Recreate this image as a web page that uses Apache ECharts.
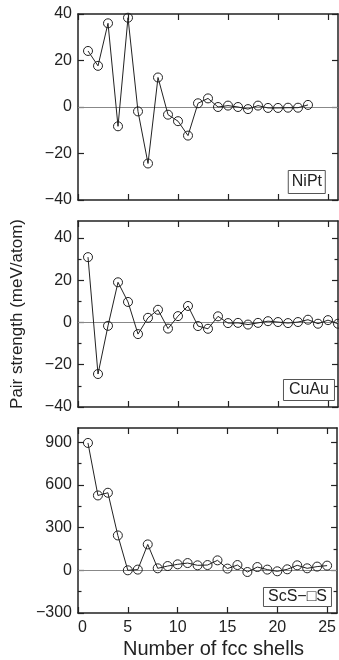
<!DOCTYPE html>
<html><head><meta charset="utf-8">
<script src="https://cdn.jsdelivr.net/npm/echarts@6/dist/echarts.min.js"></script>
<style>html,body{margin:0;padding:0;background:#fff;}#c{width:339px;height:660px;}</style>
</head><body><div id="c"></div>
<script>
// ---- data ----
const shellsNiPt = [1,2,3,4,5,6,7,8,9,10,11,12,13,14,15,16,17,18,19,20,21,22,23];
const valuesNiPt = [24.1,17.7,36.0,-8.3,38.4,-1.9,-24.3,12.7,-3.3,-6.1,-12.3,1.6,3.7,0.0,0.6,0.0,-0.9,0.6,-0.4,-0.4,-0.3,-0.3,0.9];
const shellsCuAu = [1,2,3,4,5,6,7,8,9,10,11,12,13,14,15,16,17,18,19,20,21,22,23,24,25,26];
const valuesCuAu = [30.9,-24.4,-1.6,19.0,9.7,-5.5,2.2,6.0,-2.9,3.0,7.8,-1.7,-3.0,2.9,-0.3,-0.2,-1.0,-0.2,0.6,0.2,-0.3,0.2,1.3,-0.6,1.1,-0.6];
const shellsScS = [1,2,3,4,5,6,7,8,9,10,11,12,13,14,15,16,17,18,19,20,21,22,23,24,25];
const valuesScS = [895,526,545,245,0,5,182,14,30,42,51,35,37,70,12,37,-12,23,5,-7,7,35,14,26,33];
const panelNames = ['NiPt','CuAu','ScS\u2212\u25A1S'];
const xTickValues = [0,5,10,15,20,25];
const yTicksNiPt = [-40,-20,0,20,40];
const yMinorNiPt = [];
const yTicksCuAu = [-40,-20,0,20,40];
const yMinorCuAu = [-30,-10,10,30];
const yTicksScS = [-300,0,300,600,900];
const yMinorScS = [-150,150,450,750];
const yRangeNiPt = [-40,40];
const yRangeCuAu = [-40,48];
const yRangeScS = [-300,1000];
const xRange = [0,26];
const xTitle = 'Number of fcc shells';
const yTitle = 'Pair strength (meV/atom)';

// ---- chart ----
const FONT = '"Liberation Sans", Arial, sans-serif';
const INK = '#222';
const minus = v => String(v).replace('-', '\u2212');
const panels = [
  {x: shellsNiPt, y: valuesNiPt, ticks: yTicksNiPt, minor: yMinorNiPt, range: yRangeNiPt},
  {x: shellsCuAu, y: valuesCuAu, ticks: yTicksCuAu, minor: yMinorCuAu, range: yRangeCuAu},
  {x: shellsScS, y: valuesScS, ticks: yTicksScS, minor: yMinorScS, range: yRangeScS}
];
const gridTops = [14, 221, 428];
const grid = [], xAxis = [], yAxis = [], series = [];
const titles = [
  {right: 13, top: 170, padding: [3,4,3,4]},
  {right: 4, top: 379, padding: [2,6,2,6]},
  {right: 7, top: 587, padding: [1,5,1,5]}
];
panels.forEach((p, i) => {
  grid.push({left: 78, top: gridTops[i], width: 260, height: 186});
  const axLine = {show: true, onZero: false, lineStyle: {color: INK, width: 1.5}};
  const xi = xAxis.length;
  xAxis.push({
    type: 'value', gridIndex: i, min: xRange[0], max: xRange[1], position: 'bottom',
    axisLine: axLine, splitLine: {show: false},
    axisTick: {inside: true, length: 6, customValues: xTickValues, lineStyle: {color: INK, width: 1.2}},
    axisLabel: {show: i === 2, customValues: xTickValues, margin: 7, fontSize: 16, color: INK, fontFamily: FONT, alignMinLabel: 'left'},
    name: i === 2 ? xTitle : '', nameLocation: 'middle', nameGap: 26,
    nameTextStyle: {fontSize: 20, color: INK, fontFamily: FONT, padding: [0,0,0,12]}
  });
  xAxis.push({
    type: 'value', gridIndex: i, min: xRange[0], max: xRange[1], position: 'top',
    axisLine: axLine, splitLine: {show: false},
    axisTick: {inside: true, length: 6, customValues: xTickValues, lineStyle: {color: INK, width: 1.2}},
    axisLabel: {show: false}
  });
  const yi = yAxis.length;
  ['left', 'right'].forEach(pos => {
    yAxis.push({
      type: 'value', gridIndex: i, min: p.range[0], max: p.range[1], position: pos,
      axisLine: axLine, splitLine: {show: false},
      axisTick: {inside: true, length: 6, customValues: p.ticks, lineStyle: {color: INK, width: 1.2}},
      axisLabel: {show: pos === 'left', customValues: p.ticks, formatter: minus, margin: 6, fontSize: 16, color: INK, fontFamily: FONT},
      name: (pos === 'left' && i === 1) ? yTitle : '', nameLocation: 'middle', nameGap: 52,
      nameTextStyle: {fontSize: 17, color: INK, fontFamily: FONT}
    });
    if (p.minor.length) {
      yAxis.push({
        type: 'value', gridIndex: i, min: p.range[0], max: p.range[1], position: pos,
        axisLine: {show: false, onZero: false}, splitLine: {show: false},
        axisTick: {inside: true, length: 3.5, customValues: p.minor, lineStyle: {color: INK, width: 1.2}},
        axisLabel: {show: false}
      });
    }
  });
  series.push({
    type: 'line', xAxisIndex: xi, yAxisIndex: yi,
    data: p.x.map((xv, k) => [xv, p.y[k]]),
    symbol: 'circle', symbolSize: 9,
    itemStyle: {color: 'rgba(0,0,0,0)', borderColor: INK, borderWidth: 1},
    lineStyle: {color: INK, width: 1},
    emphasis: {disabled: true}, z: 3,
    markLine: {
      silent: true, symbol: 'none', label: {show: false}, z: 2,
      lineStyle: {color: '#888', width: 1, type: 'solid'},
      data: [{yAxis: 0}]
    }
  });
  titles[i].text = panelNames[i];
  titles[i].borderColor = '#555';
  titles[i].borderWidth = 1;
  titles[i].textStyle = {fontSize: 16, fontWeight: 'normal', color: INK, fontFamily: FONT, lineHeight: 18};
});

const chart = echarts.init(document.getElementById('c'), null, {renderer: 'canvas'});
chart.setOption({
  animation: false, backgroundColor: '#fff',
  title: titles, grid, xAxis, yAxis, series
});
</script></body></html>
